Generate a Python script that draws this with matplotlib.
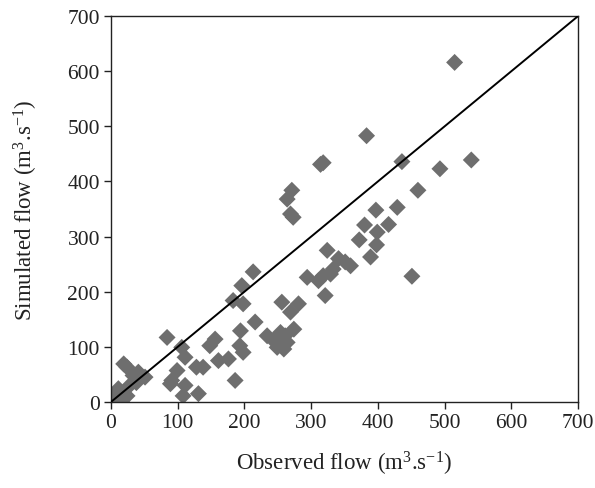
import matplotlib
matplotlib.use("Agg")
import matplotlib.pyplot as plt

# observed vs simulated flow (m3/s)
observed = [515, 540, 493, 436, 460, 383, 318, 314, 271, 264, 269, 273,
            429, 397, 380, 416, 399, 372, 398, 389, 451, 324, 341, 351,
            359, 333, 329, 294, 311, 321, 318, 213, 196, 183, 198, 256,
            281, 269, 216, 194, 234, 244, 254, 261, 274, 249, 259, 264,
            84, 156, 148, 193, 198, 106, 111, 161, 176, 128, 138, 99,
            91, 89, 186, 111, 108, 131, 19, 24, 41, 51, 33, 11,
            24, 16, 6, 28, 38, 14]
simulated = [616, 439, 423, 436, 384, 483, 434, 431, 384, 368, 341, 335,
             353, 348, 321, 322, 308, 294, 285, 263, 228, 275, 260, 254,
             247, 241, 232, 226, 220, 193, 229, 236, 211, 184, 178, 181,
             178, 163, 145, 129, 120, 111, 126, 120, 132, 99, 96, 108,
             117, 114, 102, 102, 90, 99, 81, 75, 78, 63, 63, 57,
             39, 33, 39, 30, 11, 15, 69, 63, 54, 45, 48, 24,
             11, 0, 11, 30, 35, 18]

line_x = [0, 700]
line_y = [0, 700]
ticks = [0, 100, 200, 300, 400, 500, 600, 700]

plt.rcParams['font.family'] = ['Liberation Serif', 'DejaVu Serif']
plt.rcParams['mathtext.fontset'] = 'stix'
plt.rcParams['mathtext.default'] = 'regular'

fig = plt.figure(figsize=(5.95, 4.89), dpi=100)
ax = fig.add_axes([0.1866, 0.176, 0.7849, 0.789])

ax.scatter(observed, simulated, marker='D', s=75, color='#6e6e6e',
           edgecolors='none', zorder=2)
ax.plot(line_x, line_y, color='black', linewidth=1.4, zorder=3)

ax.set_xlim(0, 700)
ax.set_ylim(0, 700)
ax.set_xticks(ticks)
ax.set_yticks(ticks)
ax.tick_params(direction='out', length=5, width=1, labelsize=15.5, colors='#222222', pad=3)
for sp in ax.spines.values():
    sp.set_linewidth(1)
    sp.set_color('#222222')

ax.set_xlabel('Observed flow (m$^3$.s$^{-1}$)', fontsize=16.5, labelpad=12, color='#222222')
ax.set_ylabel('Simulated flow (m$^3$.s$^{-1}$)', fontsize=16.5, labelpad=20, color='#222222')

fig.savefig('out.png', dpi=100)
